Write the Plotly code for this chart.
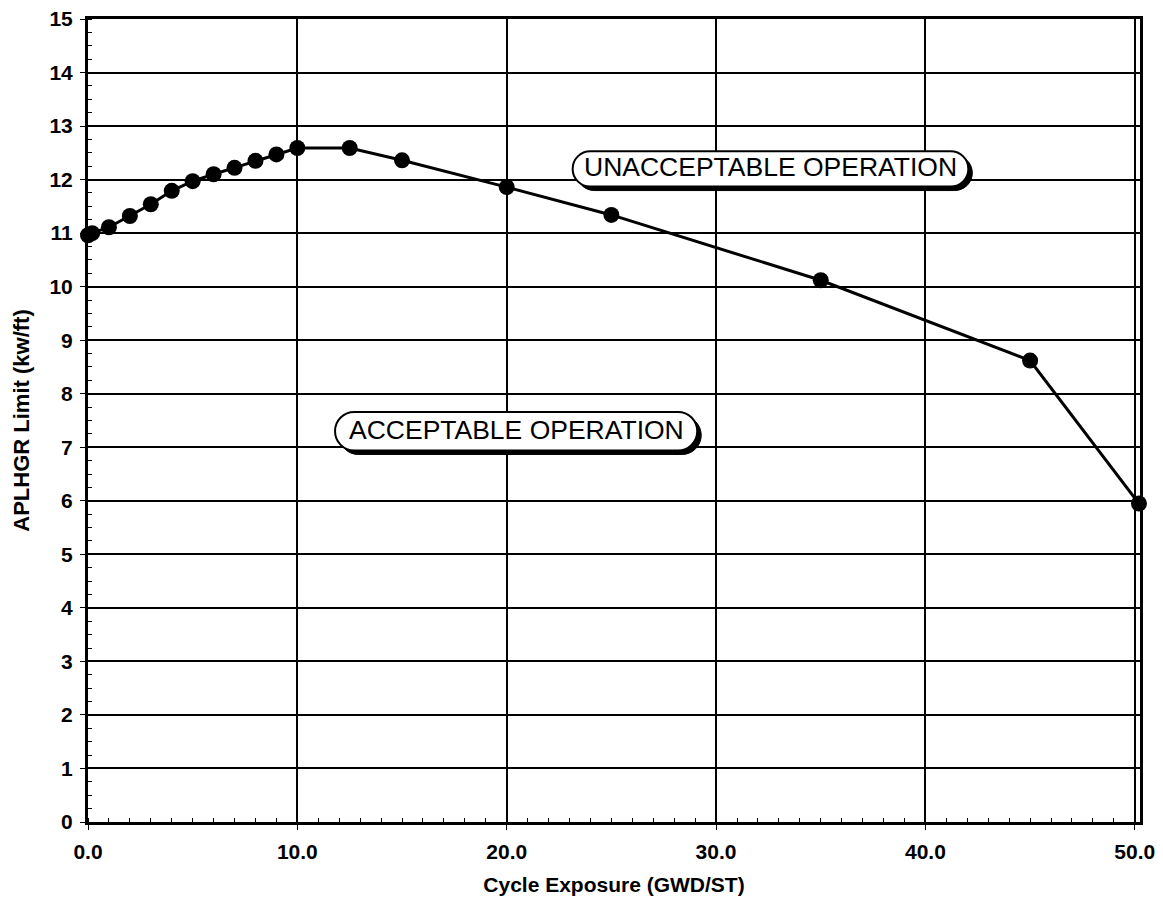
import plotly.graph_objects as go

# Data
exposure = [0.0, 0.2, 1, 2, 3, 4, 5, 6, 7, 8, 9, 10, 12.5, 15, 20, 25, 35, 45, 50.2]
aplhgr = [10.96, 11.0, 11.11, 11.32, 11.54, 11.79, 11.97, 12.10, 12.22, 12.35, 12.47,
          12.59, 12.59, 12.36, 11.86, 11.34, 10.12, 8.62, 5.95]

x_ticks = [0, 10, 20, 30, 40, 50]
y_ticks = list(range(0, 16))

labels = ["UNACCEPTABLE OPERATION", "ACCEPTABLE OPERATION"]
label_x = [32.6, 20.45]
label_y = [12.2, 7.3]
label_halfw = [9.45, 8.65]
label_halfh = [0.33, 0.36]

X_MAX = 50.25
Y_MAX = 15
L, R, T, B = 88, 23, 19, 81
W, H = 1163, 903
pxx = (W - L - R) / X_MAX
pxy = (H - T - B) / Y_MAX

FONT = "Liberation Sans, Arial, sans-serif"

fig = go.Figure()
fig.add_trace(go.Scatter(
    x=exposure, y=aplhgr, mode="lines+markers",
    line=dict(color="black", width=3),
    marker=dict(color="black", size=16),
    cliponaxis=False, showlegend=False,
))


def stadium(cx, cy, w, h):
    rx = h * pxy / pxx
    k = 0.5523
    x1, x2 = cx - w + rx, cx + w - rx
    return (f"M {x1},{cy+h} L {x2},{cy+h} "
            f"C {x2+k*rx},{cy+h} {x2+rx},{cy+k*h} {x2+rx},{cy} "
            f"C {x2+rx},{cy-k*h} {x2+k*rx},{cy-h} {x2},{cy-h} "
            f"L {x1},{cy-h} "
            f"C {x1-k*rx},{cy-h} {x1-rx},{cy-k*h} {x1-rx},{cy} "
            f"C {x1-rx},{cy+k*h} {x1-k*rx},{cy+h} {x1},{cy+h} Z")


shapes = []
for t, cx, cy, w, h in zip(labels, label_x, label_y, label_halfw, label_halfh):
    dx, dy = 4 / pxx, 4 / pxy
    shapes.append(dict(type="path", xref="x", yref="y", layer="above",
                       path=stadium(cx + dx, cy - dy, w, h),
                       fillcolor="black", line=dict(color="black", width=1)))
    shapes.append(dict(type="path", xref="x", yref="y", layer="above",
                       path=stadium(cx, cy, w, h),
                       fillcolor="white", line=dict(color="black", width=2)))
    fig.add_annotation(x=cx, y=cy + 0.03, text=t, showarrow=False,
                       font=dict(family=FONT, size=26.5, color="black"))

fig.update_layout(
    width=W, height=H,
    margin=dict(l=L, r=R, t=T, b=B, autoexpand=False),
    paper_bgcolor="white", plot_bgcolor="white",
    shapes=shapes,
    font=dict(family=FONT, color="black"),
)
fig.update_xaxes(
    range=[0, X_MAX], tickvals=x_ticks, tickformat=".1f", automargin=False,
    showgrid=True, gridcolor="black", gridwidth=2,
    showline=True, linecolor="black", linewidth=3, mirror=True,
    ticks="outside", ticklen=5, tickcolor="black", ticklabelstandoff=4,
    tickfont=dict(family=FONT, size=21, weight="bold"),
    minor=dict(dtick=1, ticks="inside", ticklen=4, tickcolor="black", showgrid=False),
    title=dict(text="Cycle Exposure (GWD/ST)", standoff=16,
               font=dict(family=FONT, size=21, weight="bold")),
    zeroline=False,
)
fig.update_yaxes(
    range=[0, Y_MAX], tickvals=y_ticks, automargin=False,
    showgrid=True, gridcolor="black", gridwidth=2,
    showline=True, linecolor="black", linewidth=3, mirror=True,
    ticks="outside", ticklen=5, tickcolor="black", ticklabelstandoff=3,
    tickfont=dict(family=FONT, size=21, weight="bold"),
    minor=dict(dtick=0.25, ticks="inside", ticklen=4, tickcolor="black", showgrid=False),
    title=dict(text="APLHGR Limit (kw/ft)", standoff=14,
               font=dict(family=FONT, size=22, weight="bold")),
    zeroline=False,
)

fig.write_html(
    "out.html",
    config={"displayModeBar": False},
    post_script="document.body.style.margin='0px';document.body.style.padding='0px';"
                "document.body.style.overflow='hidden';",
)
